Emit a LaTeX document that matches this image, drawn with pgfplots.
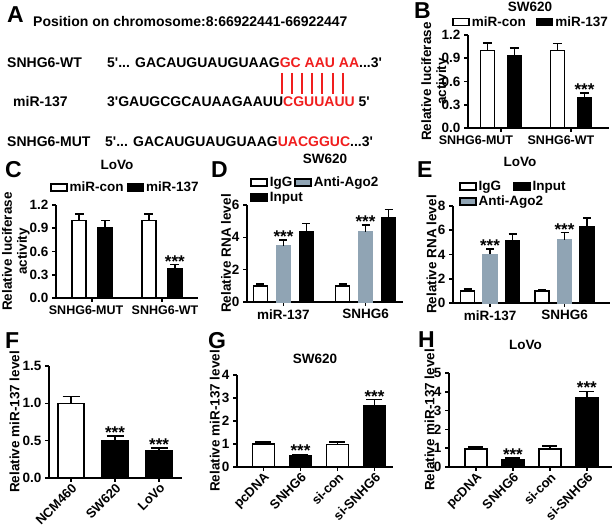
\documentclass[border=0pt]{standalone}
\usepackage{fontspec}
\setmainfont{Liberation Sans}[Ligatures=TeXOff]
\usepackage{pgfplots}
\pgfplotsset{compat=1.18}
\definecolor{ago}{HTML}{90A4B4}
\definecolor{seqred}{HTML}{F01E1E}

\pgfplotsset{
  prism/.style={
    scale only axis,
    anchor=south west,
    axis lines=left,
    axis line style={-, line width=1.6pt},
    every tick/.style={line width=1.6pt, black},
    major tick length=4pt,
    tick align=outside,
    ymin=0,
    clip=false,
    font=\fontsize{13.5}{15}\selectfont\bfseries,
    /pgf/number format/assume math mode=true,
    ybar,
    every axis plot/.append style={line width=1.6pt, draw=black},
    legend image code/.code={\draw[##1, line width=1.5pt, draw=black] (0pt,-3.5pt) rectangle (16pt,3.5pt);},
    legend style={draw=none, fill=none, inner sep=0pt, legend cell align=left},
    title style={anchor=center},
    ylabel style={anchor=center, align=center},
  },
  rotlab/.style={xticklabel style={rotate=45, anchor=north east, inner sep=0.5pt,
    font=\fontsize{13}{14}\selectfont\bfseries}},
  grplab/.style={extra x tick style={tick style={draw=none},
    xticklabel style={font=\fontsize{12.5}{14}\selectfont\bfseries}}},
  eb/.style={error bars/.cd, y dir=plus, y explicit,
    error bar style={line width=1.6pt, black},
    error mark options={rotate=90, line width=1.6pt, mark size=#1, black}},
}
\tikzset{star/.style={font=\fontsize{17}{17}\selectfont\bfseries, anchor=base, inner sep=0pt, yshift=-2.5pt}}

\begin{document}
\begin{tikzpicture}
\path[use as bounding box] (0pt,0pt) rectangle (614pt,528pt);

% ---------------- Panel A ----------------
\begin{scope}[every node/.style={font=\fontsize{14}{14}\selectfont\bfseries, inner sep=0pt}]
\node[anchor=base west, font=\fontsize{23}{23}\selectfont\bfseries] at (7pt,505pt) {A};
\node[anchor=base west] at (33pt,501pt) {Position on chromosome:8:66922441-66922447};
\node[anchor=base west] at (7pt,460pt) {SNHG6-WT};
\node[anchor=base west] at (107pt,460pt) {5'... GACAUGUAUGUAAG\textcolor{seqred}{GC AAU AA}...3'};
\node[anchor=base west] at (13pt,421pt) {miR-137};
\node[anchor=base west] at (107pt,421pt) {3'GAUGCGCAUAAGAAUU\textcolor{seqred}{CGUUAUU} 5'};
\node[anchor=base west] at (7pt,381pt) {SNHG6-MUT};
\node[anchor=base west] at (105pt,381pt) {5'... GACAUGUAUGUAAG\textcolor{seqred}{UACGGUC}...3'};
\end{scope}
\foreach \xx in {282,292,302,312,322,333,343}{
  \draw[seqred, line width=1.5pt] (\xx pt,455pt) -- (\xx pt,434pt);
}

% panel letters
\begin{scope}[every node/.style={font=\fontsize{23}{23}\selectfont\bfseries, inner sep=0pt, anchor=base west}]
\node at (414pt,509pt) {B};
\node at (5pt,350pt) {C};
\node at (211pt,350pt) {D};
\node at (417pt,350pt) {E};
\node at (5pt,179pt) {F};
\node at (208pt,179pt) {G};
\node at (418pt,180pt) {H};
\end{scope}

% ---------------- Panel B ----------------
\begin{axis}[prism, grplab, at={(468pt,400pt)}, width=141pt, height=93pt,
  xmin=0.529, xmax=2.543, ymax=1.2, bar width=14pt,
  xtick={1,2}, xticklabels={},
  extra x ticks={0.643,1.857}, extra x tick labels={SNHG6-MUT,SNHG6-WT},
  ytick={0,0.3,0.6,0.9,1.2},
  yticklabel style={/pgf/number format/.cd, fixed, fixed zerofill, precision=1},
  ylabel={Relative luciferase\\activity},
  ylabel style={at={(axis description cs:-0.234,0.5)}},
  title={SW620}, title style={at={(axis description cs:0.44,1.24)}},
  legend columns=2,
  legend style={at={(axis description cs:-0.113,1.14)}, anchor=west,
    /tikz/every even column/.append style={column sep=8pt}},
]
\addplot[fill=white, bar shift=-13.5pt, eb=4.5pt] coordinates {(1,1.0) +- (0,0.10) (2,1.0) +- (0,0.09)};
\addlegendentry{miR-con}
\addplot[fill=black, bar shift=13.5pt, eb=4.5pt] coordinates {(1,0.93) +- (0,0.10) (2,0.39) +- (0,0.06)};
\addlegendentry{miR-137}
\node[star] at ([xshift=13.5pt]axis cs:2,0.45) {***};
\end{axis}

% ---------------- Panel C ----------------
\begin{axis}[prism, grplab, at={(56pt,230pt)}, width=142pt, height=93pt,
  xmin=0.478, xmax=2.52, ymax=1.2, bar width=14pt,
  xtick={1,2}, xticklabels={},
  extra x ticks={0.91,2.046}, extra x tick labels={SNHG6-MUT,SNHG6-WT},
  ytick={0,0.3,0.6,0.9,1.2},
  yticklabel style={/pgf/number format/.cd, fixed, fixed zerofill, precision=1},
  ylabel={Relative luciferase\\activity},
  ylabel style={at={(axis description cs:-0.282,0.5)}},
  title={LoVo}, title style={at={(axis description cs:0.43,1.37)}},
  legend columns=2,
  legend style={at={(axis description cs:-0.042,1.19)}, anchor=west,
    /tikz/every even column/.append style={column sep=1pt}},
]
\addplot[fill=white, bar shift=-13pt, eb=4.5pt] coordinates {(1,1.0) +- (0,0.08) (2,1.0) +- (0,0.08)};
\addlegendentry{miR-con}
\addplot[fill=black, bar shift=13pt, eb=4.5pt] coordinates {(1,0.90) +- (0,0.10) (2,0.38) +- (0,0.05)};
\addlegendentry{miR-137}
\node[star] at ([xshift=13pt]axis cs:2,0.43) {***};
\end{axis}

% ---------------- Panel D ----------------
\begin{axis}[prism, at={(247pt,226pt)}, width=156pt, height=97pt,
  xmin=0.555, xmax=2.457, ymax=6, bar width=14pt,
  xtick={1,2}, xticklabels={miR-137,SNHG6},
  ytick={0,2,4,6},
  ylabel={Relative RNA level},
  ylabel style={at={(axis description cs:-0.135,0.5)}},
  title={SW620}, title style={at={(axis description cs:0.5,1.41)}},
  legend columns=2,
  legend style={at={(axis description cs:0.02,1.155)}, anchor=west,
    /tikz/every even column/.append style={column sep=0pt}},
]
\addplot[fill=white, bar shift=-23pt, eb=4pt] coordinates {(1,1.0) +- (0,0.10) (2,1.0) +- (0,0.10)};
\addlegendentry{IgG}
\addplot[fill=ago, draw=ago, bar shift=0pt, eb=4pt] coordinates {(1,3.45) +- (0,0.40) (2,4.35) +- (0,0.40)};
\addlegendentry{Anti-Ago2}
\addplot[fill=black, bar shift=23pt, eb=4pt] coordinates {(1,4.35) +- (0,0.50) (2,5.2) +- (0,0.52)};
\addlegendentry{\makebox[0pt][l]{Input}}
\node[star] at (axis cs:1,3.85) {***};
\node[star] at (axis cs:2,4.75) {***};
\end{axis}

% ---------------- Panel E ----------------
\begin{axis}[prism, at={(453pt,225pt)}, width=157pt, height=97pt,
  xmin=0.503, xmax=2.61, ymax=8, bar width=14pt,
  xtick={1,2}, xticklabels={miR-137,SNHG6},
  ytick={0,2,4,6,8},
  ylabel={Relative RNA level},
  ylabel style={at={(axis description cs:-0.137,0.5)}},
  title={LoVo}, title style={at={(axis description cs:0.427,1.39)}},
  legend columns=2,
  legend style={at={(axis description cs:0.038,1.124)}, anchor=west,
    /tikz/every even column/.append style={column sep=10pt}},
]
\addplot[fill=white, bar shift=-22.5pt, eb=4pt] coordinates {(1,1.0) +- (0,0.15) (2,0.97) +- (0,0.12)};
\addlegendentry{IgG}
\addplot[fill=black, bar shift=22.5pt, eb=4pt] coordinates {(1,5.1) +- (0,0.6) (2,6.3) +- (0,0.7)};
\addlegendentry{Input}
\addplot[fill=ago, draw=ago, bar shift=0pt, eb=4pt] coordinates {(1,4.0) +- (0,0.45) (2,5.2) +- (0,0.6)};
\addlegendentry{\makebox[0pt][l]{Anti-Ago2}}
\node[star] at (axis cs:1,4.45) {***};
\node[star] at (axis cs:2,5.8) {***};
\end{axis}

% ---------------- Panel F ----------------
\begin{axis}[prism, rotlab, at={(49pt,50pt)}, width=133pt, height=112pt,
  xmin=0.5, xmax=3.52, ymax=1.5, bar width=26pt,
  xtick={1,2,3}, xticklabels={NCM460,SW620,LoVo},
  ytick={0,0.5,1,1.5},
  yticklabel style={/pgf/number format/.cd, fixed, fixed zerofill, precision=1},
  ylabel={Relative miR-137 level},
  ylabel style={at={(axis description cs:-0.259,0.5)}},
]
\addplot[fill=white, bar shift=0pt, eb=8.5pt] coordinates {(1,1.0) +- (0,0.09)};
\addplot[fill=black, bar shift=0pt, eb=8.5pt] coordinates {(2,0.50) +- (0,0.06) (3,0.36) +- (0,0.04)};
\node[star] at (axis cs:2,0.56) {***};
\node[star] at (axis cs:3,0.40) {***};
\end{axis}

% ---------------- Panel G ----------------
\begin{axis}[prism, rotlab, at={(237pt,61pt)}, width=156pt, height=92pt,
  xmin=0.284, xmax=4.5, ymax=4, bar width=22pt,
  xtick={1,2,3,4}, xticklabels={pcDNA,SNHG6,si-con,si-SNHG6},
  ytick={0,1,2,3,4},
  ylabel={Relative miR-137 level},
  ylabel style={at={(axis description cs:-0.142,0.5)}},
  title={SW620}, title style={at={(axis description cs:0.50,1.11)}},
]
\addplot[fill=white, bar shift=0pt, eb=8pt] coordinates {(1,1.0) +- (0,0.1) (3,0.98) +- (0,0.1)};
\addplot[fill=black, bar shift=0pt, eb=8pt] coordinates {(2,0.48) +- (0,0.07) (4,2.68) +- (0,0.25)};
\node[star] at (axis cs:2,0.55) {***};
\node[star] at (axis cs:4,2.93) {***};
\end{axis}

% ---------------- Panel H ----------------
\begin{axis}[prism, rotlab, at={(449pt,61pt)}, width=163pt, height=94pt,
  xmin=0.27, xmax=4.68, ymax=5, bar width=22pt,
  xtick={1,2,3,4}, xticklabels={pcDNA,SNHG6,si-con,si-SNHG6},
  ytick={0,1,2,3,4,5},
  ylabel={Relative miR-137 level},
  ylabel style={at={(axis description cs:-0.12,0.5)}},
  title={LoVo}, title style={at={(axis description cs:0.47,1.23)}},
]
\addplot[fill=white, bar shift=0pt, eb=7.5pt] coordinates {(1,0.97) +- (0,0.1) (3,0.97) +- (0,0.14)};
\addplot[fill=black, bar shift=0pt, eb=7.5pt] coordinates {(2,0.40) +- (0,0.07) (4,3.67) +- (0,0.35)};
\node[star] at (axis cs:2,0.47) {***};
\node[star] at (axis cs:4,4.02) {***};
\end{axis}
\end{tikzpicture}
\end{document}
